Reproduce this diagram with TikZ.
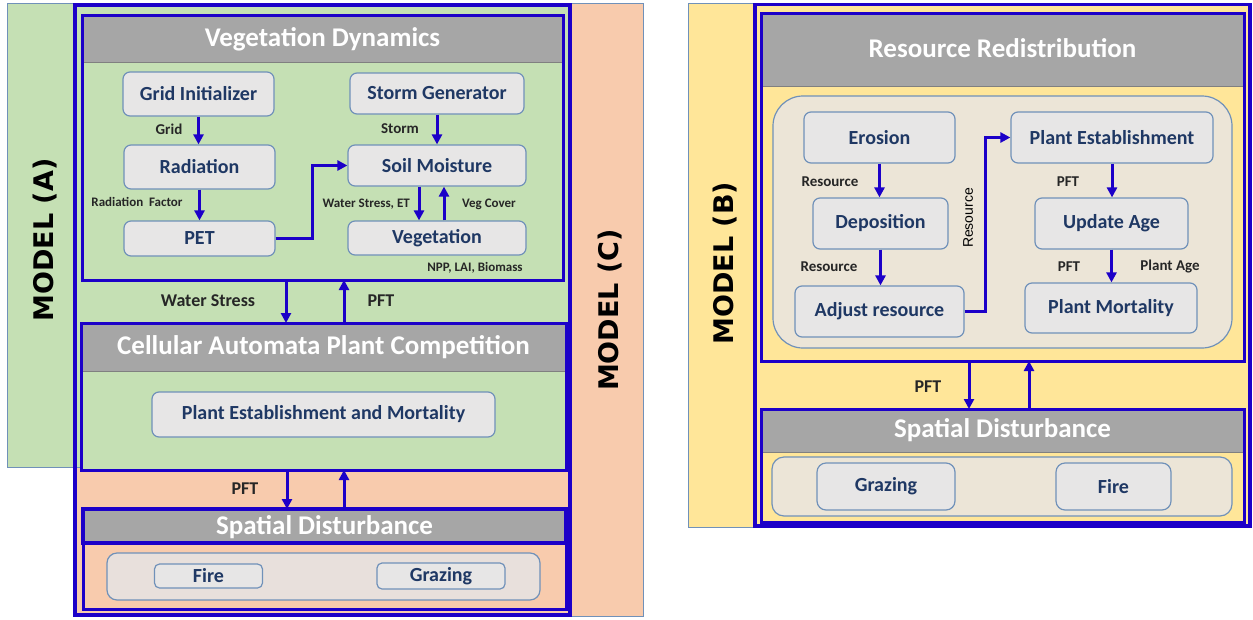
\documentclass[tikz,border=0pt]{standalone}
\usepackage{fontspec}
\setmainfont{Carlito}
\newfontfamily\modelfont{DejaVu Sans}
\newfontfamily\arialfont{Liberation Sans}
\usetikzlibrary{arrows.meta}

\definecolor{frameblue}{RGB}{28,0,200}
\definecolor{hdrgray}{RGB}{166,166,166}
\definecolor{hdrline}{RGB}{128,128,128}
\definecolor{paleGreen}{RGB}{197,224,180}
\definecolor{paleOrange}{RGB}{248,203,173}
\definecolor{paleYellow}{RGB}{255,230,153}
\definecolor{boxfill}{RGB}{231,230,230}
\definecolor{steel}{RGB}{112,145,185}
\definecolor{navy}{RGB}{31,56,100}
\definecolor{beigeR}{RGB}{236,229,215}
\definecolor{beigeL}{RGB}{232,224,220}

\tikzset{
  modelbg/.style={draw=steel, line width=1pt},
  outerframe/.style={draw=frameblue, line width=3.5pt},
  panel/.style={draw=frameblue, line width=3pt, inner sep=0pt, outer sep=0pt},
  holder/.style={draw=steel, line width=1.2pt, inner sep=0pt},
  proc/.style={draw=steel, line width=1.2pt, fill=boxfill, rounded corners=7pt,
    text=navy, font=\fontsize{20}{20}\selectfont\bfseries, inner sep=0pt},
  tag/.style={font=\fontsize{15}{15}\selectfont\bfseries, text=black!85, inner sep=0pt},
  smalltag/.style={font=\fontsize{13}{13}\selectfont\bfseries, text=black!85, inner sep=0pt},
  bigtag/.style={font=\fontsize{18}{18}\selectfont\bfseries, text=black!85, inner sep=0pt},
  title/.style={text=white, font=\fontsize{27}{27}\selectfont\bfseries, inner sep=0pt},
  flow/.style={draw=frameblue, line width=3pt, -{Triangle[length=10pt,width=10pt]}},
  modellabel/.style={rotate=90, font=\modelfont\fontsize{27}{27}\selectfont\bfseries, text=black, inner sep=0pt}
}

\begin{document}
\begin{tikzpicture}[x=1pt,y=-1pt]
\useasboundingbox (0,0) rectangle (1253,619);
\fill[white] (0,0) rectangle (1253,619);

% ---------- left model: background bands ----------
\path[modelbg, fill=paleOrange] (73,3) rectangle (643,616);
\path[modelbg, fill=paleGreen] (7,3) rectangle (570,467);
\draw[outerframe] (75,5) rectangle (570,615);
\node[modellabel] (mA) at (45,240) {MODEL (A)};
\node[modellabel] (mC) at (610,310) {MODEL (C)};

% Vegetation Dynamics
\node[panel, fill=paleGreen, minimum width=481, minimum height=265] (vd) at (322.5,147.5) {};
\fill[hdrgray] (vd.north west) rectangle ([yshift=-47pt]vd.north east);
\draw[hdrline, line width=1pt] ([yshift=-47pt]vd.north west) -- ([yshift=-47pt]vd.north east);
\draw[panel] (vd.north west) rectangle (vd.south east);
\node[title] (vdt) at (322.5,39) {Vegetation Dynamics};

\node[proc, minimum width=151, minimum height=44] (grid) at (198.5,94) {Grid Initializer};
\node[proc, minimum width=151, minimum height=44] (rad) at (199.5,167) {Radiation};
\node[proc, minimum width=151, minimum height=35] (pet) at (199.5,238.5) {PET};
\node[proc, minimum width=174, minimum height=41] (storm) at (437,93.5) {Storm Generator};
\node[proc, minimum width=178, minimum height=41] (sm) at (437,165.5) {Soil Moisture};
\node[proc, minimum width=178, minimum height=34] (veg) at (437,238) {Vegetation};

\draw[flow] (grid.south) -- (grid.south |- rad.north);
\draw[flow] (rad.south) -- (rad.south |- pet.north);
\draw[flow] (pet.east) -- ++(37,0) |- (sm.west);
\draw[flow] (storm.south) -- (storm.south |- sm.north);
\draw[flow] ([xshift=-18pt]sm.south) -- ([xshift=-18pt]veg.north);
\draw[flow] ([xshift=7pt]veg.north) -- ([xshift=7pt]sm.south);

\node[tag] (lgrid) at (169,129) {Grid};
\node[smalltag] (lradf) at (137,202) {Radiation\ \ Factor};
\node[tag] (lstorm) at (400,129) {Storm};
\node[smalltag, anchor=east] (lws) at (410,204) {Water Stress, ET};
\node[smalltag] (lvc) at (489,204) {Veg Cover};
\node[smalltag] (lnpp) at (475,268) {NPP, LAI, Biomass};

% Cellular Automata Plant Competition
\node[panel, fill=paleGreen, minimum width=485, minimum height=147] (cell) at (323.5,396.5) {};
\fill[hdrgray] (cell.north west) rectangle ([yshift=-48pt]cell.north east);
\draw[hdrline, line width=1pt] ([yshift=-48pt]cell.north west) -- ([yshift=-48pt]cell.north east);
\draw[panel] (cell.north west) rectangle (cell.south east);
\node[title] (cellt) at (323.5,347) {Cellular Automata Plant Competition};
\node[proc, minimum width=343, minimum height=45] (pem) at (323.5,414.5) {Plant Establishment and Mortality};

\draw[flow] ([xshift=-36.5pt]vd.south) -- ([xshift=-37.5pt]cell.north);
\draw[flow] ([xshift=20.5pt]cell.north) -- ([xshift=21.5pt]vd.south);
\node[bigtag] (lwsA) at (208,301) {Water Stress};
\node[bigtag] (lpftA) at (381,301) {PFT};

% Spatial Disturbance (left)
\node[panel, fill=paleOrange, minimum width=483, minimum height=100] (sdl) at (324.5,559) {};
\fill[hdrgray] (sdl.north west) rectangle ([yshift=-34pt]sdl.north east);
\draw[panel] (sdl.north west) rectangle (sdl.south east);
\draw[draw=frameblue, line width=4pt] (sdl.north west) rectangle ([yshift=-34pt]sdl.north east);
\node[title] (sdlt) at (324.5,527) {Spatial Disturbance};
\node[holder, fill=beigeL, rounded corners=10pt, minimum width=433, minimum height=47] (sdlc) at (323.5,576.5) {};
\node[proc, rounded corners=5pt, minimum width=108, minimum height=24] (fireL) at (208.5,576) {Fire};
\node[proc, rounded corners=5pt, minimum width=128, minimum height=26] (grazL) at (441,576) {Grazing};

\draw[flow] ([xshift=-36.5pt]cell.south) -- ([xshift=-37.5pt]sdl.north);
\draw[flow] ([xshift=19.5pt]sdl.north) -- ([xshift=20.5pt]cell.south);
\node[bigtag] (lpftC) at (245,489) {PFT};

% ---------- right model ----------
\path[modelbg, fill=paleYellow] (688,3) rectangle (1251,527);
\draw[outerframe] (755,4.5) rectangle (1250,526);
\node[modellabel] (mB) at (725,263) {MODEL (B)};

% Resource Redistribution
\node[panel, fill=paleYellow, minimum width=483, minimum height=348] (rr) at (1002.5,187) {};
\fill[hdrgray] (rr.north west) rectangle ([yshift=-73pt]rr.north east);
\draw[hdrline, line width=1pt] ([yshift=-73pt]rr.north west) -- ([yshift=-73pt]rr.north east);
\draw[panel] (rr.north west) rectangle (rr.south east);
\node[title] (rrt) at (1002.5,48) {Resource Redistribution};
\node[holder, fill=beigeR, rounded corners=30pt, minimum width=459, minimum height=252] (rrc) at (1002.5,222) {};

\node[proc, minimum width=151, minimum height=51] (ero) at (879.5,137.5) {Erosion};
\node[proc, minimum width=135, minimum height=51] (dep) at (880.5,223.5) {Deposition};
\node[proc, minimum width=169, minimum height=51] (adj) at (879.5,311.5) {Adjust resource};
\node[proc, minimum width=202, minimum height=51] (pest) at (1112,137.5) {Plant Establishment};
\node[proc, minimum width=153, minimum height=51] (uage) at (1111.5,223.5) {Update Age};
\node[proc, minimum width=172, minimum height=50] (pmort) at (1111,308) {Plant Mortality};

\draw[flow] (ero.south) -- (ero.south |- dep.north);
\draw[flow] (dep.south) -- (dep.south |- adj.north);
\draw[flow] (adj.east) -- ++(21,0) |- (pest.west);
\draw[flow] (pest.south) -- (pest.south |- uage.north);
\draw[flow] (uage.south) -- (uage.south |- pmort.north);

\node[tag] (lres1) at (830,182) {Resource};
\node[tag] (lres2) at (829,267) {Resource};
\node[rotate=90, inner sep=0pt, font=\arialfont\fontsize{14}{14}\selectfont] (lres3) at (968,218) {Resource};
\node[tag] (lpft1) at (1068,182) {PFT};
\node[tag] (lpft2) at (1069,267) {PFT};
\node[tag] (lage) at (1170,267) {Plant Age};

% Spatial Disturbance (right)
\node[panel, fill=paleYellow, minimum width=483, minimum height=113] (sdr) at (1002.5,465.5) {};
\fill[hdrgray] (sdr.north west) rectangle ([yshift=-43pt]sdr.north east);
\draw[hdrline, line width=1pt] ([yshift=-43pt]sdr.north west) -- ([yshift=-43pt]sdr.north east);
\draw[panel] (sdr.north west) rectangle (sdr.south east);
\node[title] (sdrt) at (1002.5,430) {Spatial Disturbance};
\node[holder, fill=beigeR, rounded corners=12pt, minimum width=460, minimum height=59] (sdrc) at (1002,486.5) {};
\node[proc, rounded corners=9pt, minimum width=138, minimum height=47] (grazR) at (886,486.5) {Grazing};
\node[proc, rounded corners=9pt, minimum width=115, minimum height=47] (fireR) at (1113.5,486.5) {Fire};

\draw[flow] ([xshift=-33.5pt]rr.south) -- ([xshift=-33.5pt]sdr.north);
\draw[flow] ([xshift=26.5pt]sdr.north) -- ([xshift=26.5pt]rr.south);
\node[bigtag] (lpftR) at (928,387) {PFT};
\end{tikzpicture}
\end{document}
